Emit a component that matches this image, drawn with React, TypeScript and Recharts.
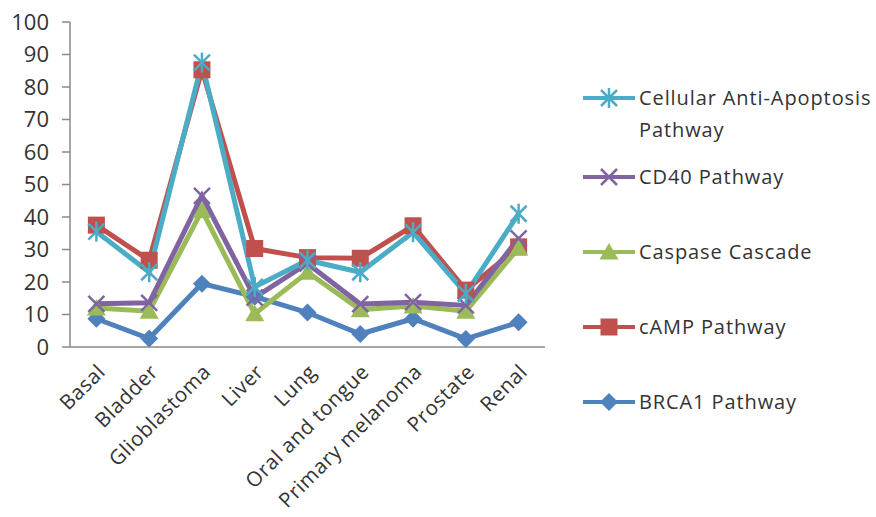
import React from 'react';
import { LineChart, Line, XAxis, YAxis, Legend } from 'recharts';

const categories = ['Basal', 'Bladder', 'Glioblastoma', 'Liver', 'Lung', 'Oral and tongue', 'Primary melanoma', 'Prostate', 'Renal'];
const brca1 = [8.7, 2.6, 19.5, 15.5, 10.6, 4.0, 8.7, 2.5, 7.6];
const camp = [37.5, 26.7, 85.3, 30.3, 27.5, 27.3, 37.3, 17.5, 30.8];
const caspase = [12.0, 11.0, 42.0, 10.2, 23.0, 11.5, 12.6, 11.0, 30.5];
const cd40 = [13.3, 13.6, 46.5, 15.2, 25.7, 13.2, 13.8, 12.8, 33.4];
const cellular = [35.5, 23.0, 87.5, 18.5, 26.7, 23.0, 35.3, 16.4, 41.0];
const yTicks = [0, 10, 20, 30, 40, 50, 60, 70, 80, 90, 100];

const seriesNames = {
  cellular: 'Cellular Anti-Apoptosis Pathway',
  cd40: 'CD40 Pathway',
  caspase: 'Caspase Cascade',
  camp: 'cAMP Pathway',
  brca1: 'BRCA1 Pathway',
};

const colors = {
  cellular: '#4BACC6',
  cd40: '#8064A2',
  caspase: '#9BBB59',
  camp: '#C0504D',
  brca1: '#4F81BD',
};

const data = categories.map((c, i) => ({
  x: i + 0.5,
  name: c,
  brca1: brca1[i],
  camp: camp[i],
  caspase: caspase[i],
  cd40: cd40[i],
  cellular: cellular[i],
}));

const boundaryTicks = [0, ...categories.map((_, i) => i + 1)];
const centerTicks = categories.map((_, i) => i + 0.5);

const FONT = '"Open Sans", sans-serif';

type MarkerKind = 'diamond' | 'square' | 'triangle' | 'x' | 'star';

function Marker({ kind, cx, cy, color }: { kind: MarkerKind; cx: number; cy: number; color: string }) {
  if (cx == null || cy == null) return null;
  switch (kind) {
    case 'diamond':
      return <polygon points={`${cx},${cy - 9} ${cx + 9},${cy} ${cx},${cy + 9} ${cx - 9},${cy}`} fill={color} />;
    case 'square':
      return <rect x={cx - 8.5} y={cy - 8.5} width={17} height={17} fill={color} />;
    case 'triangle':
      return <polygon points={`${cx},${cy - 9} ${cx + 9.5},${cy + 7.5} ${cx - 9.5},${cy + 7.5}`} fill={color} />;
    case 'x':
      return (
        <g stroke={color} strokeWidth={2.5}>
          <line x1={cx - 8} y1={cy - 8} x2={cx + 8} y2={cy + 8} />
          <line x1={cx - 8} y1={cy + 8} x2={cx + 8} y2={cy - 8} />
        </g>
      );
    case 'star':
      return (
        <g stroke={color} strokeWidth={2.5}>
          <line x1={cx - 8} y1={cy - 8} x2={cx + 8} y2={cy + 8} />
          <line x1={cx - 8} y1={cy + 8} x2={cx + 8} y2={cy - 8} />
          <line x1={cx} y1={cy - 10} x2={cx} y2={cy + 10} />
        </g>
      );
  }
  return null;
}

const makeDot = (kind: MarkerKind, color: string) => (props: any) => (
  <Marker key={`${kind}-${props.index}`} kind={kind} cx={props.cx} cy={props.cy} color={color} />
);

const legendItems: { key: keyof typeof colors; kind: MarkerKind; gap: number }[] = [
  { key: 'cellular', kind: 'star', gap: 0 },
  { key: 'cd40', kind: 'x', gap: 15 },
  { key: 'caspase', kind: 'triangle', gap: 43 },
  { key: 'camp', kind: 'square', gap: 43 },
  { key: 'brca1', kind: 'diamond', gap: 43 },
];

const renderLegend = () => (
  <div style={{ fontFamily: FONT, fontSize: 20, color: '#333', lineHeight: '32px', letterSpacing: 0.9 }}>
    {legendItems.map((it) => (
      <div key={it.key} style={{ display: 'flex', alignItems: 'flex-start', marginTop: it.gap }}>
        <svg width={56} height={32} style={{ flex: 'none' }}>
          <line x1={0} y1={16} x2={52} y2={16} stroke={colors[it.key]} strokeWidth={4} />
          <Marker kind={it.kind} cx={26} cy={16} color={colors[it.key]} />
        </svg>
        <div style={{ width: 250, whiteSpace: 'normal' }}>
          {it.key === 'cellular' ? (
            <>
              Cellular Anti-Apoptosis
              <br />
              Pathway
            </>
          ) : (
            seriesNames[it.key]
          )}
        </div>
      </div>
    ))}
  </div>
);

const CategoryTick = (props: any) => {
  const { x, y, payload } = props;
  const label = categories[Math.floor(payload.value)];
  return (
    <g transform={`translate(${x + 5},${y + 3})`}>
      <text transform="rotate(-45)" textAnchor="end" x={0} y={0} dy="0.35em" fontFamily={FONT} fontSize={20.5} fill="#333" letterSpacing={0.6}>
        {label}
      </text>
    </g>
  );
};

export default function App() {
  return (
    <div style={{ position: 'absolute', left: 0, top: 0, width: 876, height: 517, background: '#fff' }}>
      <LineChart width={876} height={517} data={data} margin={{ top: 22, right: 331, left: 0, bottom: 0 }}>
        <XAxis
          xAxisId="a_main"
          type="number"
          dataKey="x"
          domain={[0, 9]}
          ticks={boundaryTicks}
          interval={0}
          tick={false}
          tickSize={9}
          height={10}
          axisLine={{ stroke: '#8a8a8a', strokeWidth: 1.5 }}
          tickLine={{ stroke: '#8a8a8a', strokeWidth: 1.5 }}
        />
        <XAxis
          xAxisId="b_labels"
          type="number"
          dataKey="x"
          domain={[0, 9]}
          ticks={centerTicks}
          interval={0}
          axisLine={false}
          tickLine={false}
          height={160}
          tick={<CategoryTick />}
        />
        <YAxis
          domain={[0, 100]}
          ticks={yTicks}
          interval={0}
          width={70}
          tickSize={8}
          tickMargin={13}
          axisLine={{ stroke: '#8a8a8a', strokeWidth: 1.5 }}
          tickLine={{ stroke: '#8a8a8a', strokeWidth: 1.5 }}
          tick={{ fontSize: 22, fill: '#333', fontFamily: FONT }}
        />
        <Legend
          layout="vertical"
          align="center"
          verticalAlign="middle"
          content={renderLegend}
          wrapperStyle={{ left: 583, top: 82, width: 293 }}
        />
        <Line xAxisId="a_main" dataKey="brca1" name={seriesNames.brca1} stroke={colors.brca1} strokeWidth={5} dot={makeDot('diamond', colors.brca1)} isAnimationActive={false} />
        <Line xAxisId="a_main" dataKey="camp" name={seriesNames.camp} stroke={colors.camp} strokeWidth={5} dot={makeDot('square', colors.camp)} isAnimationActive={false} />
        <Line xAxisId="a_main" dataKey="caspase" name={seriesNames.caspase} stroke={colors.caspase} strokeWidth={5} dot={makeDot('triangle', colors.caspase)} isAnimationActive={false} />
        <Line xAxisId="a_main" dataKey="cd40" name={seriesNames.cd40} stroke={colors.cd40} strokeWidth={5} dot={makeDot('x', colors.cd40)} isAnimationActive={false} />
        <Line xAxisId="a_main" dataKey="cellular" name={seriesNames.cellular} stroke={colors.cellular} strokeWidth={5} dot={makeDot('star', colors.cellular)} isAnimationActive={false} />
      </LineChart>
    </div>
  );
}
